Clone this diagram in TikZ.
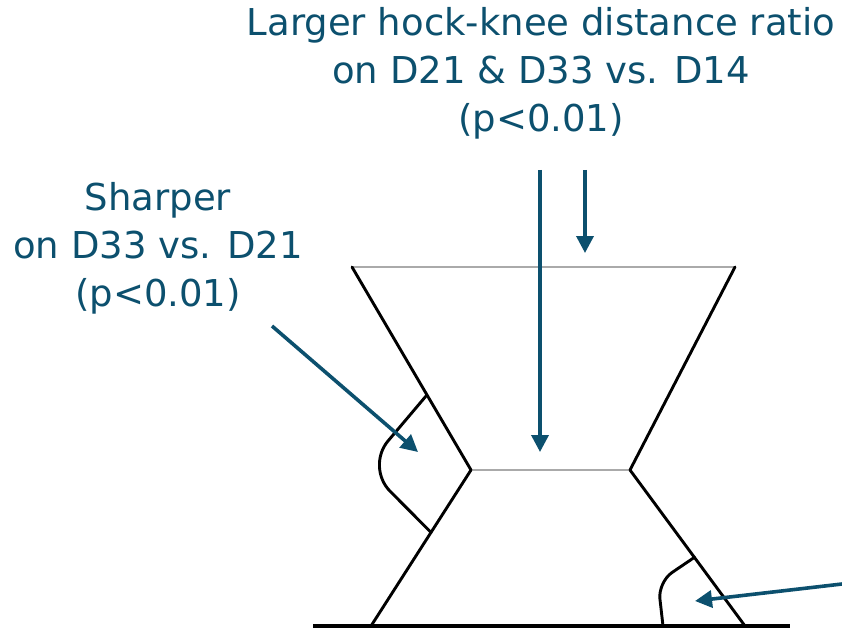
\documentclass[tikz,border=0pt]{standalone}
\usepackage{fontspec}
\setmainfont{DejaVu Sans}
\usetikzlibrary{arrows.meta,calc}
\definecolor{callout}{RGB}{12,80,110}
\definecolor{rim}{RGB}{170,170,170}
\tikzset{
  label text/.style={text=callout, align=center, inner sep=0pt,
    font=\fontsize{37}{48}\selectfont},
  pointer/.style={draw=callout, line width=3.6pt,
    -{Triangle[length=17pt,width=17pt]}},
  limb/.style={draw=black, line width=2.9pt, line cap=round, line join=round},
  rimline/.style={draw=rim, line width=1.6pt},
  ground/.style={draw=black, line width=4pt}
}
\begin{document}
\begin{tikzpicture}[x=1pt,y=-1pt]
\useasboundingbox (0,0) rectangle (842,628);

% outline of the limb
\coordinate (TL) at (352,267);
\coordinate (TR) at (735,267);
\coordinate (ML) at (471,470);
\coordinate (MR) at (630,470);
\coordinate (BL) at (371,626);
\coordinate (BR) at (745,626);
\coordinate (G1) at (313,626);
\coordinate (G2) at (790,626);

\draw[rimline] (TL) -- (TR);
\draw[rimline] (ML) -- (MR);
\draw[limb] (TL) -- (ML) -- (BL);
\draw[limb] (TR) -- (MR) -- (BR);
\draw[ground] (G1) -- (G2);

% joint angle marks
\coordinate (HA) at ($(TL)!0.63!(ML)$);
\coordinate (HB) at ($(ML)!0.40!(BL)$);
\coordinate (HC) at (366,467);
\draw[limb, rounded corners=34pt] (HA) -- (HC) -- (HB);

\coordinate (KA) at ($(MR)!0.56!(BR)$);
\coordinate (KC) at (658,582);
\coordinate (KB) at (663,626);
\draw[limb, rounded corners=17pt] (KA) -- (KC) -- (KB);

% labels
\node[label text] (top) at (541,73)
  {Larger hock-knee distance ratio\\on D21 \& D33 vs. D14\\(p<0.01)};
\node[label text] (left) at (158,248)
  {Sharper\\on D33 vs. D21\\(p<0.01)};

% pointers
\coordinate (P1s) at (540,170);
\coordinate (P1e) at (540,452);
\coordinate (P2s) at (585,170);
\coordinate (P2e) at (585,253);
\coordinate (P3s) at (272,326);
\coordinate (P3e) at (418,452);
\coordinate (P4s) at (842,584);
\coordinate (P4e) at (695,601);
\draw[pointer] (P1s) -- (P1e);
\draw[pointer] (P2s) -- (P2e);
\draw[pointer] (P3s) -- (P3e);
\draw[pointer] (P4s) -- (P4e);
\end{tikzpicture}
\end{document}
